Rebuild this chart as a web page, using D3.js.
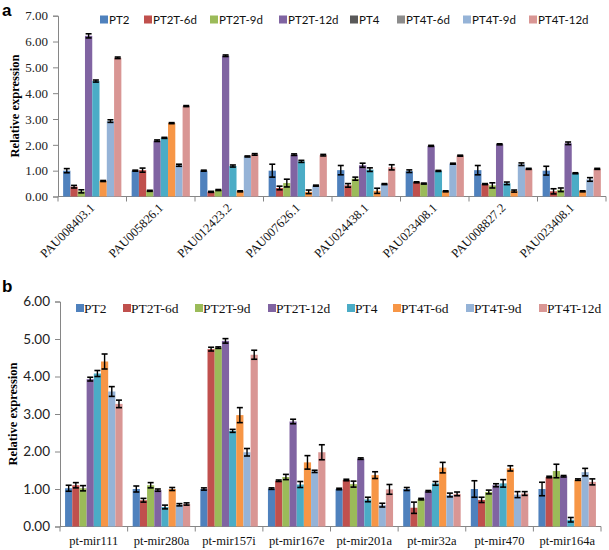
<!DOCTYPE html>
<html><head><meta charset="utf-8">
<script src="https://cdn.jsdelivr.net/npm/d3@7"></script>
<style>body{margin:0;background:#fff}svg{display:block}</style>
</head><body>
<script>
const series = ["PT2","PT2T-6d","PT2T-9d","PT2T-12d","PT4","PT4T-6d","PT4T-9d","PT4T-12d"];
const barColors = ["#4F81BD","#C0504D","#9BBB59","#8064A2","#4BACC6","#F79646","#95B3D7","#D99694"];
const legendColorsA = ["#4F81BD","#C0504D","#9BBB59","#8064A2","#595959","#8C8C8C","#95B3D7","#D99694"];

const catsA = ["PAU008403.1","PAU005826.1","PAU012423.2","PAU007626.1","PAU024438.1","PAU023408.1","PAU008827.2","PAU023408.1 "];
const valsA = [
  [1.00,0.38,0.20,6.22,4.47,0.60,2.92,5.37],
  [1.00,1.02,0.22,2.16,2.27,2.84,1.21,3.50],
  [1.00,0.18,0.25,5.45,1.18,0.20,1.55,1.63],
  [1.00,0.33,0.52,1.62,1.36,0.18,0.42,1.60],
  [1.02,0.43,0.69,1.21,1.04,0.22,0.48,1.13],
  [0.98,0.55,0.50,1.96,0.99,0.20,1.27,1.58],
  [1.02,0.48,0.43,2.02,0.51,0.21,1.25,1.07],
  [1.00,0.20,0.26,2.06,0.90,0.20,0.66,1.07]
];
const errA = [
  [0.08,0.05,0.06,0.08,0.04,0.02,0.05,0.03],
  [0.02,0.08,0.02,0.03,0.02,0.02,0.04,0.02],
  [0.02,0.02,0.02,0.03,0.04,0.02,0.02,0.03],
  [0.25,0.07,0.15,0.03,0.04,0.07,0.02,0.03],
  [0.18,0.07,0.06,0.08,0.07,0.10,0.02,0.10],
  [0.05,0.02,0.02,0.02,0.02,0.02,0.02,0.02],
  [0.18,0.02,0.10,0.02,0.05,0.04,0.05,0.02],
  [0.17,0.10,0.07,0.05,0.02,0.02,0.07,0.02]
];
const ticksA = ["0.00","1.00","2.00","3.00","4.00","5.00","6.00","7.00"];

const catsB = ["pt-mir111","pt-mir280a","pt-mir157i","pt-mir167e","pt-mir201a","pt-mir32a","pt-mir470","pt-mir164a"];
const valsB = [
  [1.02,1.10,1.02,3.93,4.08,4.40,3.60,3.27],
  [1.00,0.70,1.10,0.97,0.52,1.00,0.58,0.60],
  [1.00,4.73,4.77,4.95,2.55,2.97,1.98,4.58],
  [1.01,1.22,1.32,2.80,1.12,1.71,1.47,1.98],
  [1.00,1.24,1.13,1.81,0.72,1.37,0.57,0.99],
  [1.00,0.50,0.73,0.94,1.15,1.57,0.84,0.87],
  [1.00,0.71,0.92,1.10,1.15,1.55,0.85,0.88],
  [1.00,1.32,1.48,1.34,0.18,1.25,1.45,1.19]
];
const errB = [
  [0.08,0.07,0.07,0.05,0.08,0.20,0.13,0.10],
  [0.08,0.05,0.07,0.03,0.05,0.04,0.03,0.03],
  [0.03,0.05,0.02,0.06,0.04,0.20,0.10,0.12],
  [0.02,0.02,0.07,0.06,0.08,0.18,0.03,0.20],
  [0.02,0.02,0.08,0.02,0.06,0.09,0.05,0.13],
  [0.04,0.15,0.02,0.02,0.05,0.14,0.05,0.05],
  [0.22,0.07,0.05,0.04,0.10,0.07,0.08,0.05],
  [0.18,0.02,0.18,0.02,0.06,0.02,0.10,0.08]
];
const ticksB = ["0.00","1.00","2.00","3.00","4.00","5.00","6.00"];

const svg = d3.select("body").append("svg").attr("width",609).attr("height",550);
const axisColor = "#868686";

function panel(opt){
  const g = svg.append("g");
  const y = d3.scaleLinear().domain([0, opt.ticks.length-1]).range([opt.y0, opt.y1]);
  const x0 = d3.scaleBand().domain(opt.cats).range([opt.x0, opt.x1]).paddingInner(0.15).paddingOuter(0.075);
  const x1 = d3.scaleBand().domain(series).range([0, x0.bandwidth()]);

  const yAxis = d3.axisLeft(y).tickValues(opt.ticks.map((t,i)=>i)).tickFormat((d,i)=>opt.ticks[i]).tickSize(5).tickPadding(5);
  const ya = g.append("g").attr("transform",`translate(${opt.x0},0)`).call(yAxis);
  ya.select(".domain").attr("stroke",axisColor);
  ya.selectAll(".tick line").attr("stroke",axisColor);
  ya.selectAll("text").attr("fill","#222").style("font-family",opt.tickFont).style("font-size",opt.tickSize+"px");

  g.append("line").attr("x1",opt.x0).attr("x2",opt.x1).attr("y1",opt.y0).attr("y2",opt.y0).attr("stroke",axisColor);
  const bounds = opt.cats.map(c=>x0(c)-x0.step()*x0.paddingInner()/2).concat([opt.x1]);
  g.selectAll(".xt").data(bounds).enter().append("line")
    .attr("x1",d=>d).attr("x2",d=>d).attr("y1",opt.y0).attr("y2",opt.y0+5).attr("stroke",axisColor);

  opt.cats.forEach((c,ci)=>{
    const gg = g.append("g").attr("transform",`translate(${x0(c)},0)`);
    series.forEach((s,si)=>{
      const v = opt.vals[ci][si];
      gg.append("rect").attr("x",x1(s)).attr("y",y(v)).attr("width",x1.bandwidth()).attr("height",opt.y0-y(v))
        .attr("fill",barColors[si]);
      const e = opt.errs[ci][si];
      const cx = x1(s)+x1.bandwidth()/2;
      const ytop = y(v+e), ybot = y(Math.max(0,v-e));
      gg.append("line").attr("x1",cx).attr("x2",cx).attr("y1",ytop).attr("y2",ybot).attr("stroke","#000").attr("stroke-width",1.4);
      [ytop,ybot].forEach(yy=>gg.append("line").attr("x1",cx-3).attr("x2",cx+3).attr("y1",yy).attr("y2",yy).attr("stroke","#000").attr("stroke-width",1.6));
    });
  });

  if(opt.rotate){
    g.selectAll(".xl").data(opt.cats).enter().append("text")
      .attr("transform",d=>`translate(${x0(d)+x0.bandwidth()/2},${opt.y0+9}) rotate(-45)`)
      .attr("text-anchor","end").attr("dy","0.35em")
      .style("font-family","'Liberation Serif','Times New Roman',serif").style("font-size","12.5px").attr("fill","#111")
      .text(d=>d.trim());
  } else {
    g.selectAll(".xl").data(opt.cats).enter().append("text")
      .attr("x",d=>x0(d)+x0.bandwidth()/2).attr("y",opt.y0+18)
      .attr("text-anchor","middle")
      .style("font-family","'Liberation Serif','Times New Roman',serif").style("font-size","12.5px").attr("fill","#111")
      .text(d=>d);
  }

  g.append("text").attr("transform",`translate(${opt.titleX},${opt.titleY}) rotate(-90)`)
    .attr("text-anchor","middle").attr("dy","0.35em")
    .style("font-family","'Liberation Serif','Times New Roman',serif").style("font-weight","bold").style("font-size","12.5px")
    .text("Relative expression");

  series.forEach((s,si)=>{
    const lx = opt.legendX[si];
    g.append("rect").attr("x",lx).attr("y",opt.legendY-4).attr("width",8).attr("height",8).attr("fill",opt.legendColors[si]);
    g.append("text").attr("x",lx+opt.legendGap).attr("y",opt.legendY).attr("dy","0.35em")
      .style("font-family",opt.legendFont).style("font-size",opt.legendSize+"px").attr("fill","#111").text(s);
  });

  g.append("text").attr("x",2).attr("y",opt.letterY).style("font-family","'Liberation Sans',Arial,sans-serif")
    .style("font-weight","bold").style("font-size","17px").text(opt.letter);
}

panel({
  cats:catsA, vals:valsA, errs:errA, ticks:ticksA,
  x0:58, x1:606, y0:196.5, y1:15.7,
  tickFont:"'Liberation Serif','Times New Roman',serif", tickSize:13,
  rotate:true, titleX:15, titleY:106,
  legendX:[100,144,210,279,350,397,463,529], legendY:19.5, legendGap:9,
  legendFont:"Lato,'Open Sans',sans-serif", legendSize:11.5,
  legendColors:legendColorsA, letter:"a", letterY:16
});

panel({
  cats:catsB, vals:valsB, errs:errB, ticks:ticksB,
  x0:60, x1:601, y0:526.5, y1:301.5,
  tickFont:"Lato,'Open Sans',sans-serif", tickSize:13.5,
  rotate:false, titleX:13, titleY:414,
  legendX:[76,123,195,268,347,393,466,539], legendY:308, legendGap:8,
  legendFont:"'Liberation Serif','Times New Roman',serif", legendSize:13.5,
  legendColors:barColors, letter:"b", letterY:292
});
</script>
</body></html>
